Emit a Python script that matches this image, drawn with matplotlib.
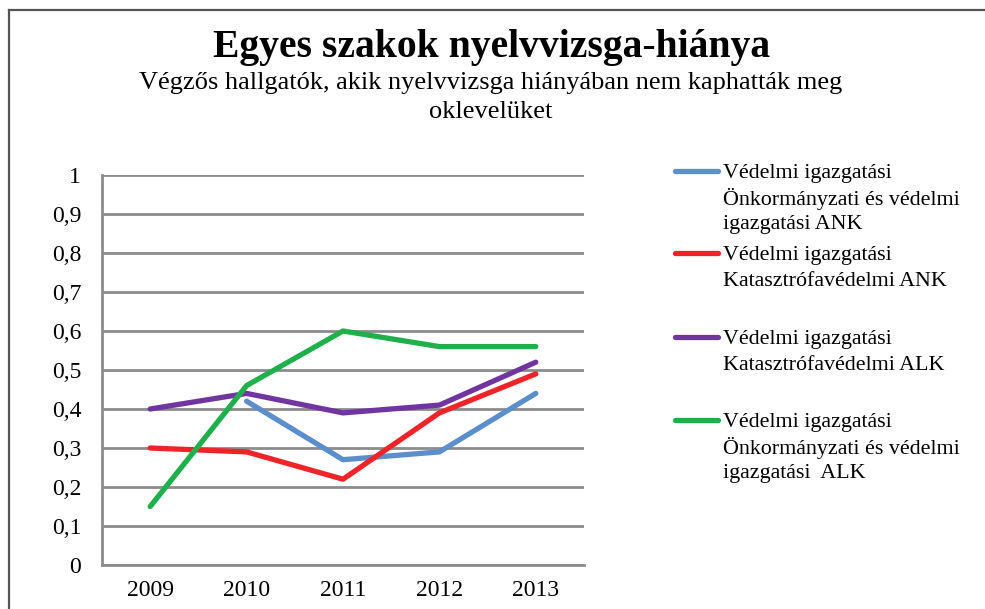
import numpy as np
import matplotlib

matplotlib.use("Agg")
import matplotlib.pyplot as plt
from matplotlib.lines import Line2D

plt.rcParams["font.family"] = ["Liberation Serif", "DejaVu Serif"]

# --- Adatok ---
evek = ["2009", "2010", "2011", "2012", "2013"]
onk_ank = [np.nan, 0.42, 0.27, 0.29, 0.44]
kat_ank = [0.30, 0.29, 0.22, 0.39, 0.49]
kat_alk = [0.40, 0.44, 0.39, 0.41, 0.52]
onk_alk = [0.15, 0.46, 0.60, 0.56, 0.56]

sorozatok = [onk_ank, kat_ank, kat_alk, onk_alk]
szinek = ["#5B8FCC", "#EE2428", "#7135A0", "#1FAF4B"]
cimkek = [
    ["Védelmi igazgatási", "Önkormányzati és védelmi", "igazgatási ANK"],
    ["Védelmi igazgatási", "Katasztrófavédelmi ANK"],
    ["Védelmi igazgatási", "Katasztrófavédelmi ALK"],
    ["Védelmi igazgatási", "Önkormányzati és védelmi", "igazgatási  ALK"],
]
y_ticks = [0, 0.1, 0.2, 0.3, 0.4, 0.5, 0.6, 0.7, 0.8, 0.9, 1]
y_labels = ["0", "0,1", "0,2", "0,3", "0,4", "0,5", "0,6", "0,7", "0,8", "0,9", "1"]

W, H = 985, 609
fig = plt.figure(figsize=(W / 100, H / 100), dpi=100)
ax = fig.add_axes([102 / W, 1 - 565 / H, 482 / W, 390 / H])

x = np.arange(len(evek))
for adat, szin in zip(sorozatok, szinek):
    ax.plot(x, adat, color=szin, lw=3.8, solid_capstyle="round", solid_joinstyle="round", zorder=3)

ax.set_xlim(-0.5, len(evek) - 0.5)
ax.set_ylim(0, 1)
ax.set_xticks(x)
ax.set_xticklabels(evek, fontsize=17)
ax.set_yticks(y_ticks)
ax.set_yticklabels(y_labels, fontsize=17)
ax.tick_params(length=0)
ax.tick_params(axis="y", pad=15)
ax.tick_params(axis="x", pad=11)
ax.grid(axis="y", color="#8C8C8C", lw=2.0)
ax.set_axisbelow(True)
for s in ["top", "right"]:
    ax.spines[s].set_visible(False)
for s in ["left", "bottom"]:
    ax.spines[s].set_color("#8C8C8C")
    ax.spines[s].set_linewidth(2.0)

# --- Jelmagyarazat (kezzel, soronkent) ---
leg_y = [171, 253, 337, 420]
sor_tav = 25.5
for yy, szin, cim in zip(leg_y, szinek, cimkek):
    fy = 1 - yy / H
    fig.add_artist(Line2D([675 / W, 718 / W], [fy, fy], color=szin, lw=3.8,
                          solid_capstyle="round", transform=fig.transFigure))
    for i, sor in enumerate(cim):
        fig.text(723 / W, 1 - (yy + i * sor_tav) / H, sor, fontsize=15.8,
                 va="center_baseline", ha="left")

# --- Cimek ---
fig.text(492 / W, 1 - 43 / H, "Egyes szakok nyelvvizsga-hiánya", fontsize=28.5,
         fontweight="bold", ha="center", va="center_baseline")
fig.text(491 / W, 1 - 80 / H,
         "Végzős hallgatók, akik nyelvvizsga hiányában nem kaphatták meg",
         fontsize=19, ha="center", va="center_baseline")
fig.text(491 / W, 1 - 110 / H, "oklevelüket",
         fontsize=19, ha="center", va="center_baseline")

# --- Keret ---
fig.add_artist(Line2D([9 / W, 9 / W], [0, 1 - 10 / H], color="#555555", lw=1.6,
                      transform=fig.transFigure))
fig.add_artist(Line2D([9 / W, 1], [1 - 10 / H, 1 - 10 / H], color="#555555", lw=1.6,
                      transform=fig.transFigure))

fig.savefig("out.png", dpi=100)
plt.close()
